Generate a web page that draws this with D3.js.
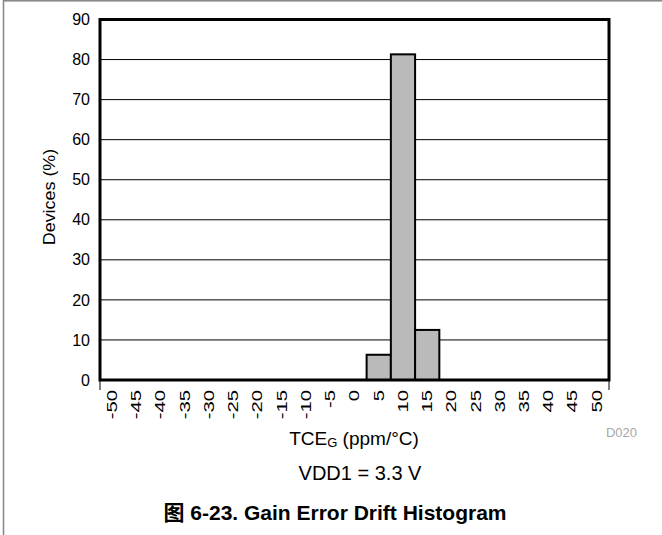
<!DOCTYPE html>
<html>
<head>
<meta charset="utf-8">
<script src="https://cdn.jsdelivr.net/npm/d3@7"></script>
<style>
  body { margin: 0; background: #fff; }
  svg text { font-family: "Liberation Sans", Arial, sans-serif; }
</style>
</head>
<body>
<svg id="main"></svg>
<script>
// bin centres (ppm/°C) and share of devices in each bin
let bins = [-50, -45, -40, -35, -30, -25, -20, -15, -10, -5, 0, 5, 10, 15, 20, 25, 30, 35, 40, 45, 50];
let devices = [0, 0, 0, 0, 0, 0, 0, 0, 0, 0, 0, 6.3, 81.3, 12.5, 0, 0, 0, 0, 0, 0, 0];
let yTicks = [0, 10, 20, 30, 40, 50, 60, 70, 80, 90];

const drawChart = () => {
	var W = 662, H = 535;
	var plot = {left: 100, right: 609, top: 19.5, bottom: 380};

	var svg = d3.select("#main")
		.attr("width", W)
		.attr("height", H);

	// outer frame of the figure
	svg.append("rect")
		.attr("x", 3.5).attr("y", 0.8)
		.attr("width", 720).attr("height", 600)
		.attr("fill", "none")
		.attr("stroke", "#8a8a8a")
		.attr("stroke-width", 1.6);

	var data = bins.map(function(b, i) { return {bin: b, value: devices[i]}; });

	var x = d3.scaleBand()
		.domain(bins)
		.range([plot.left, plot.right])
		.padding(0);

	var y = d3.scaleLinear()
		.domain([0, 90])
		.range([plot.bottom, plot.top]);

	// grid lines
	svg.append("g")
		.selectAll("line")
		.data(yTicks.slice(1, -1))
		.enter()
		.append("line")
		.attr("x1", plot.left).attr("x2", plot.right)
		.attr("y1", function(d) { return y(d); })
		.attr("y2", function(d) { return y(d); })
		.attr("stroke", "#000")
		.attr("stroke-width", 1);

	// y axis labels
	var yAxis = svg.append("g")
		.attr("transform", "translate(" + plot.left + ",0)")
		.call(d3.axisLeft(y).tickValues(yTicks).tickSize(0).tickPadding(10));
	yAxis.select(".domain").remove();
	yAxis.selectAll("text")
		.attr("font-size", 16)
		.attr("font-family", "Liberation Sans, Arial, sans-serif")
		.attr("fill", "#000");

	// x axis labels, rotated and stretched along the text like the original
	var xAxis = svg.append("g")
		.attr("transform", "translate(0," + plot.bottom + ")")
		.call(d3.axisBottom(x).tickSize(0));
	xAxis.select(".domain").remove();
	xAxis.selectAll("text")
		.attr("font-size", 14)
		.attr("font-family", "Liberation Sans, Arial, sans-serif")
		.attr("fill", "#000")
		.attr("dy", null)
		.attr("y", 0)
		.attr("transform", "translate(0,10) rotate(-90) scale(1.45,1)")
		.attr("dominant-baseline", "central")
		.style("text-anchor", "end");

	// end ticks under the axis
	svg.append("g")
		.selectAll("line")
		.data([plot.left, plot.right])
		.enter()
		.append("line")
		.attr("x1", function(d) { return d; })
		.attr("x2", function(d) { return d; })
		.attr("y1", plot.bottom)
		.attr("y2", plot.bottom + 10)
		.attr("stroke", "#000")
		.attr("stroke-width", 1);

	// bars
	svg.selectAll("myRect")
		.data(data.filter(function(d) { return d.value > 0; }))
		.enter()
		.append("rect")
		.attr("x", function(d) { return x(d.bin); })
		.attr("y", function(d) { return y(d.value); })
		.attr("width", x.bandwidth())
		.attr("height", function(d) { return y(0) - y(d.value); })
		.attr("fill", "#bababa")
		.attr("stroke", "#000")
		.attr("stroke-width", 2);

	// plot border
	svg.append("rect")
		.attr("x", plot.left).attr("y", plot.top)
		.attr("width", plot.right - plot.left)
		.attr("height", plot.bottom - plot.top)
		.attr("fill", "none")
		.attr("stroke", "#000")
		.attr("stroke-width", 3);

	// axis titles
	svg.append("text")
		.attr("transform", "translate(50,197) rotate(-90) scale(1.12,1)")
		.attr("text-anchor", "middle")
		.attr("dominant-baseline", "central")
		.attr("font-size", 16)
		.text("Devices (%)");

	var xt = svg.append("text")
		.attr("x", 354).attr("y", 445)
		.attr("text-anchor", "middle")
		.attr("font-size", 19);
	xt.append("tspan").text("TCE");
	xt.append("tspan").attr("font-size", 13).attr("dy", 2).text("G");
	xt.append("tspan").attr("dy", -2).text(" (ppm/°C)");

	svg.append("text")
		.attr("x", 637).attr("y", 437)
		.attr("text-anchor", "end")
		.attr("font-size", 13)
		.attr("fill", "#a8a8a8")
		.text("D020");

	svg.append("text")
		.attr("x", 360).attr("y", 480)
		.attr("text-anchor", "middle")
		.attr("font-size", 20)
		.text("VDD1 = 3.3 V");

	svg.append("text")
		.attr("x", 335).attr("y", 520)
		.attr("text-anchor", "middle")
		.attr("font-size", 21)
		.attr("font-weight", "bold")
		.style("font-family", "'Liberation Sans', 'Noto Sans CJK SC', sans-serif")
		.text("图 6-23. Gain Error Drift Histogram");
};

drawChart();
</script>
</body>
</html>
